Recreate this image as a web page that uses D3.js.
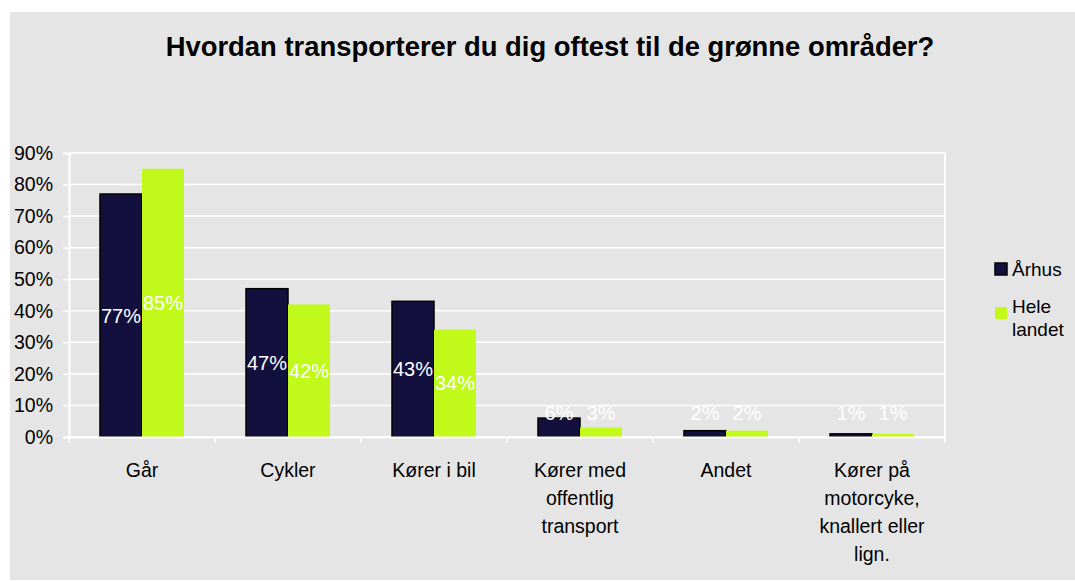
<!DOCTYPE html>
<html>
<head>
<meta charset="utf-8">
<script src="https://d3js.org/d3.v7.min.js"></script>
<style>
  body { margin: 0; background: #fff; }
  text { font-family: Arial, "Liberation Sans", sans-serif; }
</style>
</head>
<body>
<script>
// chart data
const categories = ["Går", "Cykler", "Kører i bil", "Kører med offentlig transport", "Andet", "Kører på motorcyke, knallert eller lign."];
const categoryLines = [["Går"], ["Cykler"], ["Kører i bil"], ["Kører med", "offentlig", "transport"], ["Andet"], ["Kører på", "motorcyke,", "knallert eller", "lign."]];
const seriesNames = ["Århus", "Hele landet"];
const aarhus = [77, 47, 43, 6, 2, 1];
const heleLandet = [85, 42, 34, 3, 2, 1];
const yTicks = [0, 10, 20, 30, 40, 50, 60, 70, 80, 90];
const colors = ["#14103e", "#c0f91a"];

const width = 1075, height = 581;
const plot = { left: 69, right: 945, top: 153, bottom: 437 };

const svg = d3.select("body").append("svg")
    .attr("width", width)
    .attr("height", height);

// grey chart area
svg.append("rect")
    .attr("x", 10).attr("y", 12)
    .attr("width", width - 10).attr("height", 568)
    .attr("fill", "#e5e5e5");

svg.append("text")
    .attr("x", 550).attr("y", 56)
    .attr("text-anchor", "middle")
    .attr("font-size", 27.4)
    .attr("font-weight", "bold")
    .attr("fill", "#000")
    .text("Hvordan transporterer du dig oftest til de grønne områder?");

const x = d3.scaleBand()
    .domain(categories)
    .range([plot.left, plot.right]);

const y = d3.scaleLinear()
    .domain([0, 90])
    .range([plot.bottom, plot.top]);

// gridlines
svg.append("g")
    .selectAll("line")
    .data(yTicks)
    .join("line")
    .attr("x1", plot.left).attr("x2", plot.right)
    .attr("y1", d => y(d)).attr("y2", d => y(d))
    .attr("stroke", "#fff")
    .attr("stroke-width", 1.5);

// right border
svg.append("line")
    .attr("x1", plot.right).attr("x2", plot.right)
    .attr("y1", plot.top).attr("y2", plot.bottom)
    .attr("stroke", "#fff").attr("stroke-width", 2);

// y axis
const yAxis = svg.append("g")
    .attr("transform", `translate(${plot.left},0)`)
    .call(d3.axisLeft(y).tickValues(yTicks).tickFormat(d => d + "%").tickSize(6).tickPadding(10));
yAxis.select(".domain").attr("stroke", "#fff").attr("stroke-width", 2);
yAxis.selectAll(".tick line").attr("stroke", "#fff").attr("stroke-width", 1.5);
yAxis.selectAll(".tick text")
    .attr("font-size", 19.5)
    .attr("font-family", "Arial, 'Liberation Sans', sans-serif")
    .attr("fill", "#000");

// bars
const sub = d3.scaleBand()
    .domain([0, 1])
    .range([0, x.bandwidth()])
    .paddingInner(0)
    .paddingOuter(0.738);

const series = [aarhus, heleLandet];
series.forEach((vals, si) => {
    svg.append("g")
        .selectAll("rect")
        .data(vals)
        .join("rect")
        .attr("x", (d, i) => x(categories[i]) + sub(si))
        .attr("y", d => y(d))
        .attr("width", sub.bandwidth())
        .attr("height", d => y(0) - y(d))
        .attr("fill", colors[si])
        .attr("stroke", si === 0 ? "#000" : "none")
        .attr("stroke-width", 1.5);
});

// x axis
const xAxis = svg.append("g")
    .attr("transform", `translate(0,${plot.bottom})`)
    .call(d3.axisBottom(x).tickSize(0).tickFormat(""));
xAxis.select(".domain").attr("stroke", "#fff").attr("stroke-width", 2);
xAxis.selectAll(".tick").remove();

// tick marks at category boundaries
svg.append("g")
    .selectAll("line")
    .data(d3.range(categories.length + 1))
    .join("line")
    .attr("x1", i => plot.left + i * x.step())
    .attr("x2", i => plot.left + i * x.step())
    .attr("y1", plot.bottom).attr("y2", plot.bottom + 6)
    .attr("stroke", "#fff").attr("stroke-width", 1.5);

// category labels
const catLabels = svg.append("g")
    .selectAll("text")
    .data(categories)
    .join("text")
    .attr("x", d => x(d) + x.bandwidth() / 2)
    .attr("y", 477)
    .attr("text-anchor", "middle")
    .attr("font-size", 19.5)
    .attr("fill", "#000");
catLabels.selectAll("tspan")
    .data((d, i) => categoryLines[i])
    .join("tspan")
    .attr("x", function () { return d3.select(this.parentNode).attr("x"); })
    .attr("dy", (d, i) => i === 0 ? 0 : 28)
    .text(d => d);

// value labels
series.forEach((vals, si) => {
    svg.append("g")
        .selectAll("text")
        .data(vals)
        .join("text")
        .attr("x", (d, i) => x(categories[i]) + sub(si) + sub.bandwidth() / 2)
        .attr("y", d => Math.min((y(d) + y(0)) / 2, 413))
        .attr("dy", "0.35em")
        .attr("text-anchor", "middle")
        .attr("font-size", 20)
        .attr("fill", "#fff")
        .text(d => d + "%");
});

// legend
const legend = svg.append("g");
const legendY = [269, 313];
seriesNames.forEach((name, i) => {
    legend.append("rect")
        .attr("x", 995).attr("y", legendY[i] - 6)
        .attr("width", 12).attr("height", 12)
        .attr("fill", colors[i])
        .attr("stroke", i === 0 ? "#000" : "none")
        .attr("stroke-width", 1.5);
});
legend.append("text")
    .attr("x", 1012).attr("y", 269).attr("dy", "0.35em")
    .attr("font-size", 19).attr("fill", "#000")
    .text(seriesNames[0]);
legend.append("text")
    .attr("x", 1012).attr("y", 313).attr("dy", "0.35em")
    .attr("font-size", 19).attr("fill", "#000")
    .selectAll("tspan")
    .data(["Hele", "landet"])
    .join("tspan")
    .attr("x", 1012)
    .attr("dy", (d, i) => i === 0 ? 0 : 23)
    .text(d => d);
</script>
</body>
</html>
